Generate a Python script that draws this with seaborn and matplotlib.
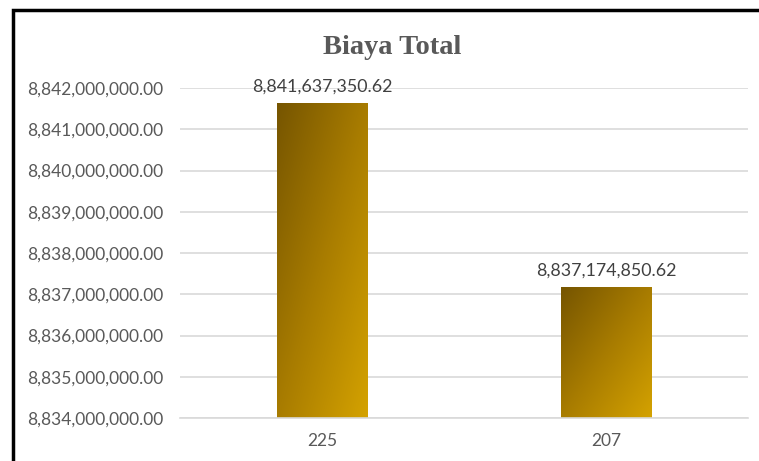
import numpy as np
import pandas as pd
import matplotlib
matplotlib.use("Agg")
import matplotlib.pyplot as plt
import seaborn as sns
from matplotlib.colors import LinearSegmentedColormap
from matplotlib.patches import Rectangle
from matplotlib.ticker import FuncFormatter, MultipleLocator

categories = ["225", "207"]
values = [8841637350.62, 8837174850.62]
title = "Biaya Total"

sns.set_theme(style="white")
plt.rcParams["font.family"] = ["Lato", "DejaVu Sans"]

fig = plt.figure(figsize=(7.59, 4.61), dpi=100)
ax = fig.add_axes([180/759, 1-418/461, 568/759, 330/461])

df = pd.DataFrame({"cat": categories, "val": values})
sns.barplot(data=df, x="cat", y="val", ax=ax, width=0.317, color="#b08400",
            saturation=1, edgecolor="none")

ax.set_ylim(8834000000, 8842000000)
ax.set_xlim(-0.5, 1.5)
ax.yaxis.set_major_locator(MultipleLocator(1000000))
ax.yaxis.set_major_formatter(FuncFormatter(lambda v, p: f"{v:,.2f}"))
ax.grid(axis="y", color="#d9d9d9", linewidth=1.2)
ax.set_axisbelow(True)
for s in ["left", "right", "top"]:
    ax.spines[s].set_visible(False)
ax.spines["bottom"].set_color("#d9d9d9")
ax.spines["bottom"].set_linewidth(1.2)
ax.set_xlabel("")
ax.set_ylabel("")
ax.tick_params(axis="y", labelsize=12.5, labelcolor="#595959", length=0, pad=12)
ax.tick_params(axis="x", labelsize=12.5, labelcolor="#595959", length=0, pad=11)

# gradient fill: dark at top-left, light at bottom-right
cmap = LinearSegmentedColormap.from_list("g", ["#765500", "#a87c00", "#d4a200"])
grad = np.add.outer(np.linspace(0, 1, 100), np.linspace(0, 1, 100)) / 2
for patch, v in zip(ax.patches, values):
    x0, y0 = patch.get_x(), patch.get_y()
    w, h = patch.get_width(), patch.get_height()
    im = ax.imshow(grad, cmap=cmap, extent=[x0, x0 + w, ax.get_ylim()[0], v],
                   origin="upper", aspect="auto", zorder=2, vmin=0, vmax=1)
    im.set_clip_path(patch)
    patch.set_facecolor("none")
    ax.annotate(f"{v:,.2f}", (x0 + w/2, v), xytext=(0, 6), textcoords="offset points",
                ha="center", va="bottom", fontsize=12.8, color="#404040")
ax.set_xlim(-0.5, 1.5)
ax.set_ylim(8834000000, 8842000000)

fig.text(392/759, 1-47/461, title, ha="center", va="center", fontsize=20.5,
         fontweight="bold", color="#595959", family=["Liberation Serif", "DejaVu Serif"])

border = Rectangle((12.5/759, -0.1), 1.2, (1 - 10.5/461) + 0.1, transform=fig.transFigure,
                   fill=False, edgecolor="black", linewidth=2.5, zorder=10)
fig.patches.append(border)

fig.savefig("out.png", dpi=100)
